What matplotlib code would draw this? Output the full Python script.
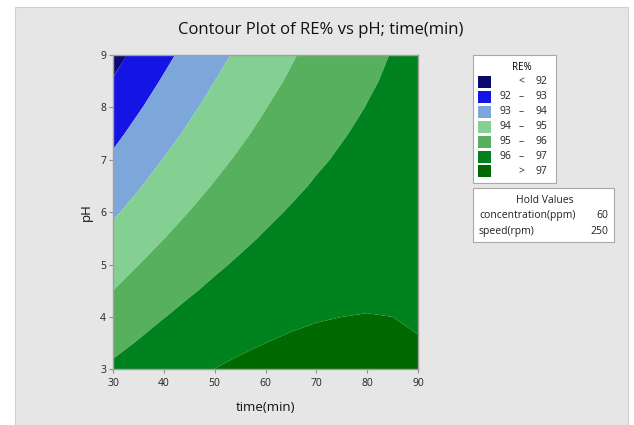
import numpy as np
import matplotlib
matplotlib.use("Agg")
import matplotlib.pyplot as plt
from matplotlib.patches import Rectangle

# grid: RE% at each time (columns) and pH (rows)
time_min = [30, 35, 40, 45, 50, 55, 60, 65, 70, 75, 80, 85, 90]
ph = [3.0, 3.5, 4.0, 4.5, 5.0, 5.5, 6.0, 6.5, 7.0, 7.5, 8.0, 8.5, 9.0]
re_pct = [
    [96.15, 96.42, 96.65, 96.84, 97.01, 97.14, 97.23, 97.30, 97.33, 97.33, 97.29, 97.22, 97.12],
    [95.77, 96.05, 96.31, 96.53, 96.72, 96.88, 97.00, 97.09, 97.14, 97.16, 97.15, 97.11, 97.03],
    [95.38, 95.70, 95.98, 96.22, 96.44, 96.62, 96.76, 96.88, 96.96, 97.00, 97.02, 97.00, 96.94],
    [95.00, 95.34, 95.64, 95.92, 96.15, 96.36, 96.53, 96.67, 96.77, 96.85, 96.88, 96.89, 96.86],
    [94.62, 94.99, 95.32, 95.61, 95.88, 96.10, 96.30, 96.46, 96.59, 96.69, 96.75, 96.78, 96.78],
    [94.25, 94.64, 94.99, 95.31, 95.60, 95.85, 96.07, 96.26, 96.42, 96.54, 96.62, 96.68, 96.70],
    [93.88, 94.29, 94.67, 95.01, 95.33, 95.60, 95.85, 96.06, 96.24, 96.39, 96.50, 96.58, 96.62],
    [93.51, 93.94, 94.35, 94.72, 95.05, 95.36, 95.63, 95.86, 96.07, 96.24, 96.38, 96.48, 96.55],
    [93.14, 93.60, 94.03, 94.42, 94.79, 95.11, 95.41, 95.67, 95.90, 96.09, 96.26, 96.38, 96.48],
    [92.78, 93.26, 93.71, 94.13, 94.52, 94.87, 95.19, 95.48, 95.73, 95.95, 96.14, 96.29, 96.41],
    [92.41, 92.92, 93.40, 93.85, 94.26, 94.63, 94.98, 95.29, 95.57, 95.81, 96.02, 96.20, 96.35],
    [92.05, 92.59, 93.09, 93.56, 94.00, 94.40, 94.77, 95.10, 95.40, 95.67, 95.91, 96.11, 96.28],
    [91.70, 92.26, 92.78, 93.28, 93.74, 94.16, 94.56, 94.92, 95.25, 95.54, 95.80, 96.03, 96.22],
]
levels = [90, 92, 93, 94, 95, 96, 97, 99]
legend_labels = [("<", None, "92"), ("92", "–", "93"), ("93", "–", "94"), ("94", "–", "95"),
                 ("95", "–", "96"), ("96", "–", "97"), (">", None, "97")]
hold_names = ["concentration(ppm)", "speed(rpm)"]
hold_values = ["60", "250"]

colors = ["#0b0b6f", "#1414e4", "#7da6da", "#84cf92", "#57b05d", "#00821f", "#006900"]

plt.rcParams["font.family"] = ["Open Sans", "DejaVu Sans"]

W, H = 634, 425
fig = plt.figure(figsize=(W / 100, H / 100), dpi=100, facecolor="white")


def fx(x):
    return x / W


def fy(y):
    return 1 - y / H


# gray panel behind everything
fig.patches.append(Rectangle((fx(15), 0), fx(628) - fx(15), fy(7), transform=fig.transFigure,
                             facecolor="#e6e6e6", edgecolor="#d0d0d0", lw=0.8, zorder=-10))

ax = fig.add_axes([fx(113), fy(369.3), fx(418) - fx(113), fy(55) - fy(369.3)])
ax.contourf(time_min, ph, np.array(re_pct), levels=levels, colors=colors, antialiased=True)
ax.set_xlim(30, 90)
ax.set_ylim(3, 9)
ax.set_xticks([30, 40, 50, 60, 70, 80, 90])
ax.set_yticks([3, 4, 5, 6, 7, 8, 9])
ax.tick_params(direction="out", length=3, width=0.8, color="#909090", labelsize=7.5,
               labelcolor="#222222")
ax.tick_params(axis="x", pad=3.5)
ax.tick_params(axis="y", pad=2)
for s in ax.spines.values():
    s.set_color("#a0a0a0")
    s.set_linewidth(1)
ax.set_xlabel("time(min)", fontsize=9.5, color="#111111", labelpad=8.5)
ax.set_ylabel("pH", fontsize=9.5, color="#111111", labelpad=5)

fig.text(fx(321), fy(30), "Contour Plot of RE% vs pH; time(min)", ha="center", va="center",
         fontsize=12, color="#111111")

# RE% legend box
fig.patches.append(Rectangle((fx(473), fy(183)), fx(556) - fx(473), fy(55) - fy(183),
                             transform=fig.transFigure, facecolor="white", edgecolor="#a8a8a8", lw=0.8))
fig.text(fx(522), fy(67), "RE%", ha="center", va="center", fontsize=7)
for i, (a, b, c) in enumerate(legend_labels):
    yc = 82 + i * 14.9
    fig.patches.append(Rectangle((fx(478), fy(yc + 6)), fx(491) - fx(478), fy(yc - 6) - fy(yc + 6),
                                 transform=fig.transFigure, facecolor=colors[i], edgecolor="none"))
    if b is None:
        fig.text(fx(521), fy(yc), a, ha="center", va="center", fontsize=7.5, color="#222222")
    else:
        fig.text(fx(499), fy(yc), a, ha="left", va="center", fontsize=7.5, color="#222222")
        fig.text(fx(521), fy(yc), b, ha="center", va="center", fontsize=7.5, color="#222222")
    fig.text(fx(547), fy(yc), c, ha="right", va="center", fontsize=7.5, color="#222222")

# hold values box
fig.patches.append(Rectangle((fx(473), fy(242)), fx(614) - fx(473), fy(188) - fy(242),
                             transform=fig.transFigure, facecolor="white", edgecolor="#a8a8a8", lw=0.8))
fig.text(fx(545), fy(200.5), "Hold Values", ha="center", va="center", fontsize=7.5, color="#222222")
for i, (n, v) in enumerate(zip(hold_names, hold_values)):
    yc = 215.5 + i * 16
    fig.text(fx(479), fy(yc), n, ha="left", va="center", fontsize=7.5, color="#222222")
    fig.text(fx(608), fy(yc), v, ha="right", va="center", fontsize=7.5, color="#222222")

fig.savefig("out.png", dpi=100, facecolor=fig.get_facecolor())
